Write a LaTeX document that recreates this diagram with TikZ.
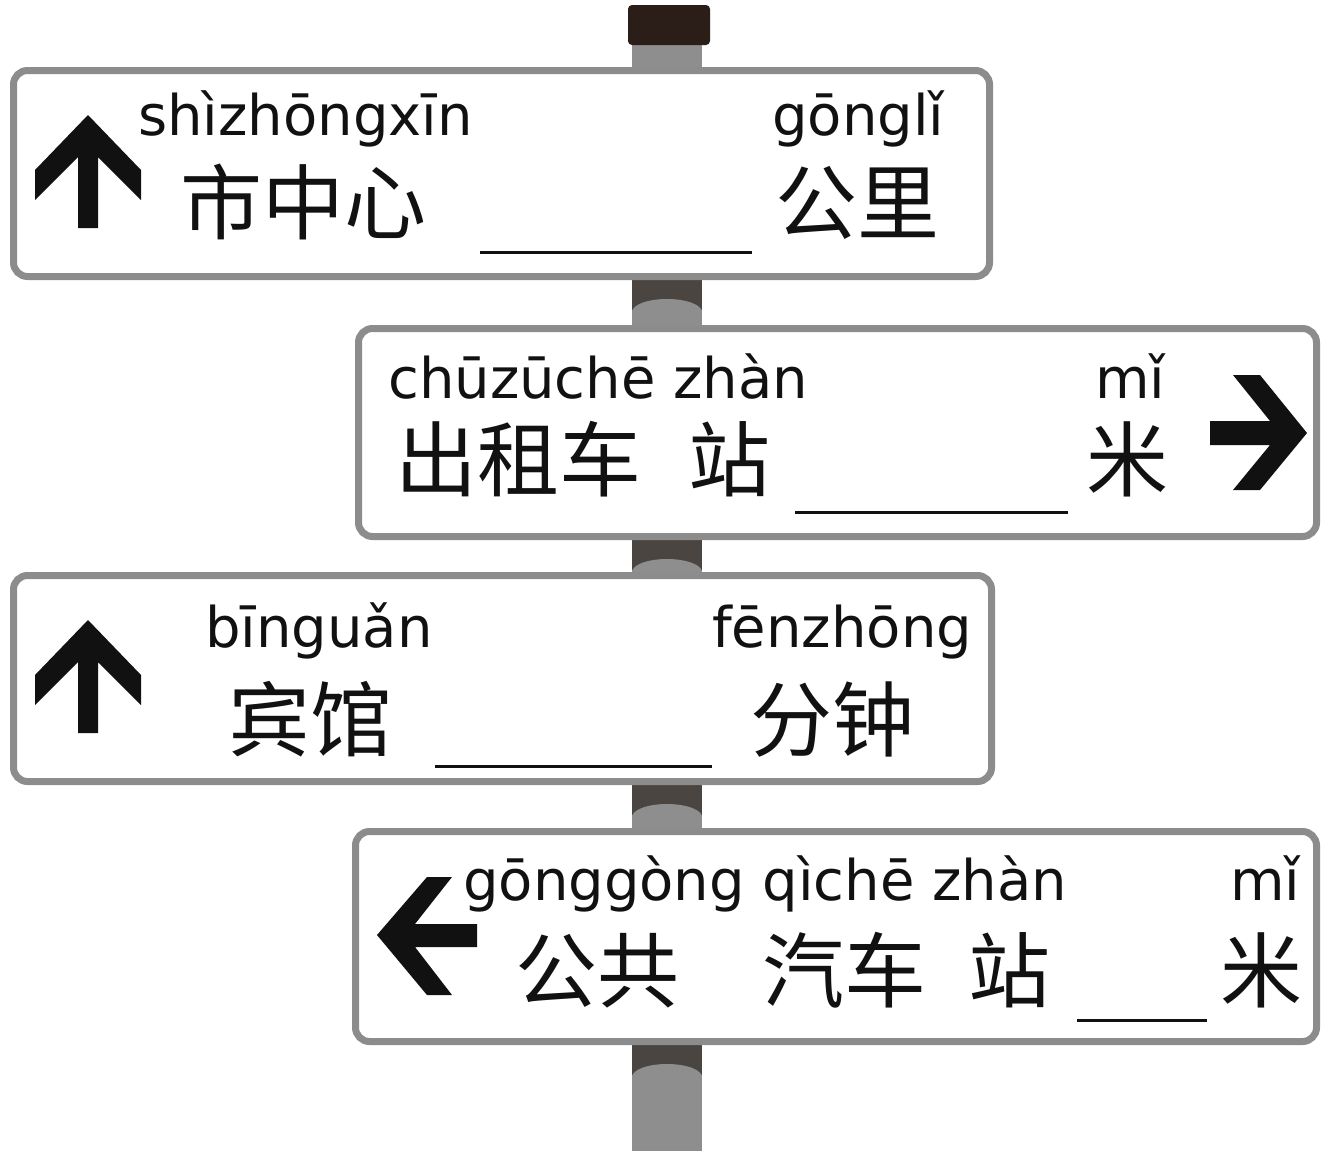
\documentclass[tikz,border=0pt]{standalone}
\usepackage{fontspec}
\newfontfamily\pyfont{DejaVu Sans}
\newfontfamily\hzfont{Noto Sans CJK SC}
\definecolor{polegray}{HTML}{8E8E8E}
\definecolor{poledark}{HTML}{4A4540}
\definecolor{capbrown}{HTML}{2B1D17}
\definecolor{signedge}{HTML}{8C8C8C}
\definecolor{ink}{HTML}{111111}

\begin{document}
\begin{tikzpicture}[x=1pt, y=-1pt,
  sign/.style = {draw=signedge, line width=7pt, fill=white, rounded corners=14pt, inner sep=0pt},
  py/.style = {anchor=base west, inner sep=0pt, text=ink, font=\pyfont\fontsize{56}{56}\selectfont},
  hz/.style = {anchor=base west, inner sep=0pt, text=ink, font=\hzfont\fontsize{82}{82}\selectfont},
  blank/.style = {draw=ink, line width=3pt},
  pointer/.style = {fill=ink}]
\useasboundingbox[fill=white] (0,0) rectangle (1322,1151);

% pole
\fill[polegray] (632,43) rectangle (702,1151);
\foreach \b in {280,540,785,1045}{
  \fill[poledark] (632,\b) rectangle (702,\b+30);
  \fill[polegray] (667,\b+32) ellipse (35 and 13);
}
\fill[capbrown, rounded corners=4pt] (628,5) rectangle (710,45);

% signs
\node[sign, minimum width=976pt, minimum height=206pt] (s1) at (501.5,173.5) {};
\node[sign, minimum width=958pt, minimum height=208pt] (s2) at (837.5,432.5) {};
\node[sign, minimum width=978pt, minimum height=206pt] (s3) at (502.5,678.5) {};
\node[sign, minimum width=961pt, minimum height=210pt] (s4) at (836,936.5) {};

% sign 1
\fill[pointer] (88,115) -- (141,170) -- (141,200) -- (98,157) -- (98,228) -- (78,228)
  -- (78,157) -- (35,200) -- (35,170) -- cycle;
\node[py] (py1a) at (138,135) {shìzhōngxīn};
\node[hz] (hz1a) at (180,233) {市中心};
\node[py] (py1b) at (772,135) {gōnglǐ};
\node[hz] (hz1b) at (775,233) {公里};
\draw[blank] (480,252) -- (752,252);

% sign 2
\node[py] (py2a) at (388,398) {chūzūchē zhàn};
\node[hz] (hz2a) at (395,490) {出租车};
\node[hz] (hz2b) at (688,490) {站};
\node[py] (py2c) at (1095,398) {mǐ};
\node[hz] (hz2c) at (1086,490) {米};
\draw[blank] (795,512) -- (1068,512);
\fill[pointer] (1307,433) -- (1260,375) -- (1233,375) -- (1270,421) -- (1210,421) -- (1210,445)
  -- (1270,445) -- (1233,490) -- (1260,490) -- cycle;

% sign 3
\fill[pointer] (88,620) -- (141,675) -- (141,705) -- (98,662) -- (98,733) -- (78,733)
  -- (78,662) -- (35,705) -- (35,675) -- cycle;
\node[py] (py3a) at (205,647) {bīnguǎn};
\node[hz] (hz3a) at (228,750) {宾馆};
\node[py] (py3b) at (712,647) {fēnzhōng};
\node[hz] (hz3b) at (750,750) {分钟};
\draw[blank] (435,766) -- (712,766);

% sign 4
\fill[pointer] (377,935) -- (427,877) -- (452,877) -- (415,924) -- (477,924) -- (477,947)
  -- (415,947) -- (452,995) -- (427,995) -- cycle;
\node[py] (py4a) at (463,900) {gōnggòng qìchē zhàn};
\node[hz] (hz4a) at (515,1001) {公共};
\node[hz] (hz4b) at (762,1001) {汽车};
\node[hz] (hz4c) at (968,1001) {站};
\node[py] (py4d) at (1230,900) {mǐ};
\node[hz] (hz4d) at (1220,1001) {米};
\draw[blank] (1077,1020) -- (1207,1020);
\end{tikzpicture}
\end{document}
